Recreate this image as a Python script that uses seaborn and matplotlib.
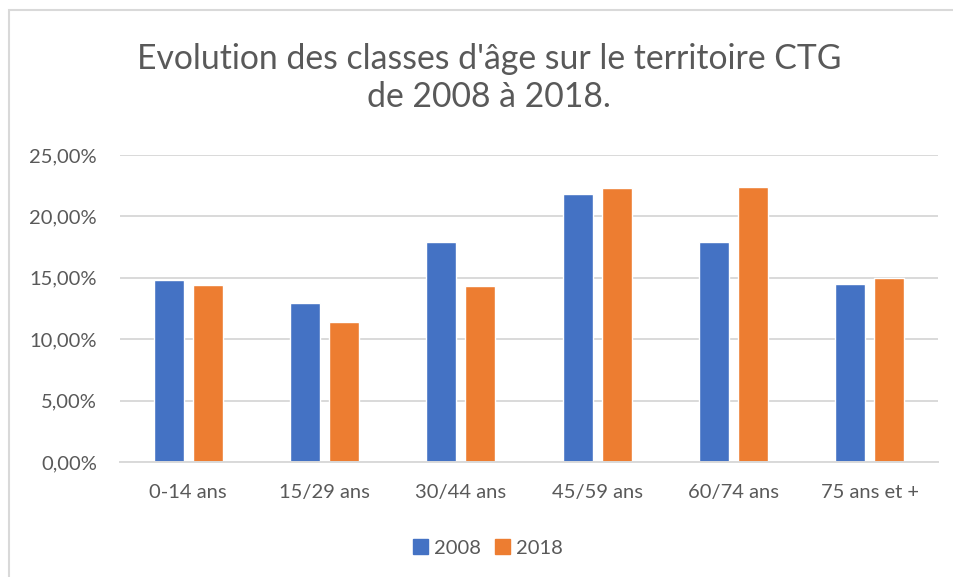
import matplotlib
matplotlib.use("Agg")
import matplotlib.pyplot as plt
import matplotlib.patches as mpatches
import seaborn as sns
import pandas as pd

# data
categories = ["0-14 ans", "15/29 ans", "30/44 ans", "45/59 ans", "60/74 ans", "75 ans et +"]
years = ["2008", "2018"]
values_2008 = [14.84, 12.97, 17.95, 21.81, 17.95, 14.46]
values_2018 = [14.43, 11.43, 14.30, 22.35, 22.43, 15.00]
yticks = [0, 5, 10, 15, 20, 25]

df = pd.DataFrame({
    "classe": categories * 2,
    "annee": [years[0]] * len(categories) + [years[1]] * len(categories),
    "part": values_2008 + values_2018,
})

sns.set_theme(style="white")
plt.rcParams["font.family"] = ["Lato", "DejaVu Sans"]
txt = "#595959"
grid = "#d9d9d9"

fig = plt.figure(figsize=(9.54, 5.77), dpi=100)
ax = fig.add_axes([120 / 954, 1 - 462 / 577, (938 - 120) / 954, (462 - 155) / 577])

sns.barplot(data=df, x="classe", y="part", hue="annee", order=categories,
            hue_order=years, palette=["#4472C4", "#ED7D31"],
            width=0.57, gap=0.23, ax=ax, legend=False, saturation=1)

ax.set_ylim(0, 25)
ax.set_xlim(-0.5, len(categories) - 0.5)
ax.set_yticks(yticks)
ax.set_yticklabels([f"{v:.2f}%".replace(".", ",") for v in yticks])
ax.yaxis.grid(True, color=grid, linewidth=1.4)
ax.set_axisbelow(True)
for s in ["top", "right", "left"]:
    ax.spines[s].set_visible(False)
ax.spines["bottom"].set_color(grid)
ax.spines["bottom"].set_linewidth(1.4)
ax.tick_params(axis="both", length=0, colors=txt, labelsize=14.5)
ax.tick_params(axis="y", pad=16.5)
ax.tick_params(axis="x", pad=16)
ax.set_xlabel("")
ax.set_ylabel("")

fig.text(489 / 954, 1 - 78 / 577,
         "Evolution des classes d'âge sur le territoire CTG\nde 2008 à 2018.",
         ha="center", va="center", fontsize=24.3, color=txt, linespacing=1.22)

handles = [mpatches.Patch(color="#4472C4", label=years[0]),
           mpatches.Patch(color="#ED7D31", label=years[1])]
fig.legend(handles=handles, loc="center", bbox_to_anchor=(488 / 954, 1 - 548 / 577),
           ncol=2, frameon=False, fontsize=14.5, labelcolor=txt,
           handlelength=0.75, handleheight=0.75, handletextpad=0.3, columnspacing=0.7)

# outer chart frame (cut off at right and bottom as in the reference)
fig.patches.append(mpatches.Rectangle((9 / 954, -0.1), 1.2, 1 - 10 / 577 + 0.1,
                                      transform=fig.transFigure, fill=False,
                                      edgecolor=grid, linewidth=1.5))

plt.savefig("out.png", dpi=100)
